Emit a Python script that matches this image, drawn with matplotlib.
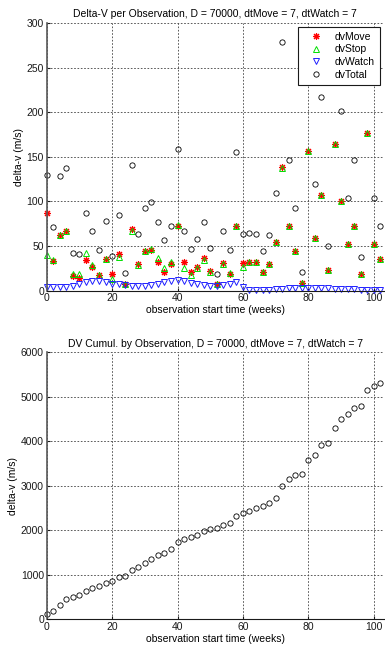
import numpy as np
import matplotlib
matplotlib.use('Agg')
import matplotlib.pyplot as plt

plt.rcParams['font.family'] = ['Liberation Sans', 'DejaVu Sans']
plt.rcParams['font.size'] = 7.5

# observation start times (weeks)
t = np.arange(0, 104, 2)

# delta-v components per observation (m/s)
dvMove = [87, 33, 62, 67, 17, 14, 34, 26, 18, 35, 19, 41, 7, 69, 30, 44, 46, 32,
          21, 30, 73, 32, 21, 26, 37, 22, 7, 31, 19, 72, 31, 32, 32, 21, 30, 54,
          139, 72, 45, 9, 157, 59, 107, 23, 164, 100, 52, 72, 19, 177, 52, 36]
dvStop = [40, 34, 62, 67, 19, 19, 42, 29, 18, 35, 13, 38, 7, 67, 29, 44, 47, 37,
          25, 32, 74, 25, 18, 25, 34, 21, 7, 30, 20, 72, 27, 32, 32, 21, 30, 54,
          138, 72, 45, 9, 157, 59, 107, 23, 164, 100, 52, 72, 19, 177, 52, 36]
dvWatch = [4, 4, 4, 4, 5, 7, 10, 11, 11, 10, 8, 7, 6, 5, 5, 5, 6, 8,
           10, 11, 12, 11, 9, 7, 6, 5, 5, 6, 8, 10, 4, 1, 1, 1, 1, 2,
           2, 3, 3, 3, 3, 3, 3, 3, 2, 2, 2, 2, 1, 1, 1, 1]
dvTotal = [130, 71, 128, 138, 42, 41, 87, 67, 46, 78, 39, 85, 20, 141, 64, 93, 99, 77,
           57, 73, 159, 67, 47, 58, 77, 48, 19, 67, 46, 155, 63, 65, 64, 45, 62, 109,
           279, 146, 93, 21, 317, 120, 217, 50, 330, 201, 104, 146, 38, 355, 104, 73]

dvCumul = np.cumsum(dvTotal)

grid_kw = dict(color='0.25', linestyle=(0, (2, 2)), linewidth=0.6)
asterisk = (8, 2, 0)


def style_axes(ax):
    ax.grid(True, **grid_kw)
    ax.set_axisbelow(True)
    for s in ['top', 'right']:
        ax.spines[s].set_visible(False)
    ax.spines['left'].set_color('0.35')
    ax.spines['left'].set_linewidth(1.2)
    ax.spines['bottom'].set_color('0.1')
    ax.tick_params(direction='in', length=2, pad=2, colors='0.1')
    ax.set_xlim(0, 103)
    ax.set_xticks(np.arange(0, 101, 20))
    ax.set_xlabel('observation start time (weeks)', labelpad=1)
    ax.set_ylabel('delta-v (m/s)', labelpad=2)


fig = plt.figure(figsize=(3.85, 6.51), dpi=100)

# per-observation delta-v
ax1 = fig.add_axes([0.1213, 0.5535, 0.875, 0.4112])
ymax = 300
ax1.plot(t, np.ma.masked_greater(dvMove, ymax), ls='none', marker=asterisk,
         color='red', ms=5, mew=0.8, clip_on=False, label='dvMove')
ax1.plot(t, np.ma.masked_greater(dvStop, ymax), '^', color='#00e000', mfc='none',
         ms=4.5, mew=0.7, clip_on=False, label='dvStop')
ax1.plot(t, np.ma.masked_greater(dvWatch, ymax), 'v', color='#2020ff', mfc='none',
         ms=4.5, mew=0.7, clip_on=False, label='dvWatch')
ax1.plot(t, np.ma.masked_greater(dvTotal, ymax), 'o', color='k', mfc='none',
         ms=3.8, mew=0.6, clip_on=False, label='dvTotal')
ax1.set_ylim(0, ymax)
ax1.set_yticks(np.arange(0, 301, 50))
style_axes(ax1)
ax1.set_title('Delta-V per Observation, D = 70000, dtMove = 7, dtWatch = 7',
              fontsize=7.5, pad=4)
leg = ax1.legend(loc='upper right', bbox_to_anchor=(1.0, 1.0), borderaxespad=0.35,
                 handlelength=2.4, handletextpad=0.6, borderpad=0.5,
                 labelspacing=0.25, fancybox=False, framealpha=1)
leg.get_frame().set_edgecolor('0.1')
leg.get_frame().set_linewidth(0.8)

# cumulative delta-v
ax2 = fig.add_axes([0.1213, 0.0484, 0.875, 0.4104])
ax2.plot(t, dvCumul, 'o', color='k', mfc='none', ms=3.8, mew=0.6, clip_on=False)
ax2.set_ylim(0, 6000)
ax2.set_yticks(np.arange(0, 6001, 1000))
style_axes(ax2)
ax2.set_title('DV Cumul. by Observation, D = 70000, dtMove = 7, dtWatch = 7',
              fontsize=7.5, pad=4)

fig.savefig('out.png', dpi=100)
